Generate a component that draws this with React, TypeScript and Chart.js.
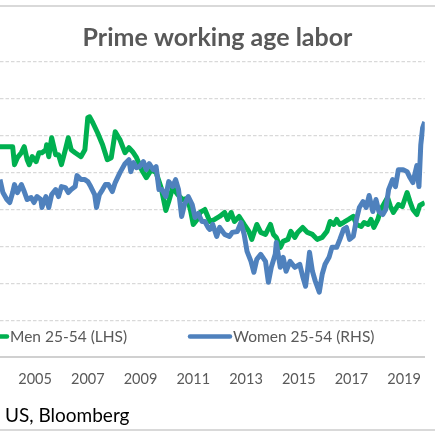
import React, { useEffect, useRef } from "react";
import { Chart, registerables } from "chart.js";

Chart.register(...registerables);

const chartTitle = "Prime working age labor";
const sourceNote = "US, Bloomberg";
const tickYears = [2005, 2007, 2009, 2011, 2013, 2015, 2017, 2019];
const xRange = [2003.67, 2019.78];

const menLabel = "Men 25-54 (LHS)";
const menAxisRange = [86.28, 92.2];
const menYears = [
  2003.67, 2003.85, 2004.04, 2004.15, 2004.22, 2004.33, 2004.48, 2004.59, 2004.7, 2004.78,
  2004.89, 2005.04, 2005.15, 2005.26, 2005.41, 2005.44, 2005.52, 2005.63, 2005.78, 2005.89,
  2006.0, 2006.15, 2006.26, 2006.37, 2006.52, 2006.63, 2006.74, 2006.89, 2007.0, 2007.07,
  2007.19, 2007.37, 2007.56, 2007.74, 2007.89, 2008.04, 2008.22, 2008.41, 2008.56, 2008.7,
  2008.85, 2009.04, 2009.22, 2009.41, 2009.59, 2009.78, 2009.96, 2010.07, 2010.22, 2010.41,
  2010.59, 2010.78, 2010.89, 2011.0, 2011.15, 2011.26, 2011.44, 2011.63, 2011.81, 2012.0,
  2012.19, 2012.3, 2012.44, 2012.56, 2012.74, 2012.93, 2013.11, 2013.22, 2013.41, 2013.56,
  2013.74, 2013.93, 2014.04, 2014.15, 2014.3, 2014.41, 2014.59, 2014.7, 2014.85, 2014.96,
  2015.15, 2015.33, 2015.52, 2015.7, 2015.89, 2016.07, 2016.19, 2016.33, 2016.44, 2016.56,
  2016.7, 2016.89, 2017.07, 2017.19, 2017.37, 2017.48, 2017.63, 2017.74, 2017.85, 2018.0,
  2018.11, 2018.22, 2018.37, 2018.48, 2018.59, 2018.78, 2018.93, 2019.11, 2019.22, 2019.33,
  2019.48, 2019.59, 2019.78,
];
const menRates = [
  90.5, 90.5, 90.5, 90.5, 90.14, 90.28, 90.38, 90.5, 90.24, 90.14,
  90.3, 90.2, 90.38, 90.38, 90.44, 90.54, 90.3, 90.68, 90.34, 90.34,
  90.14, 90.44, 90.68, 90.44, 90.38, 90.34, 90.3, 90.44, 91.08, 91.1,
  90.98, 90.78, 90.54, 90.24, 90.28, 90.8, 90.64, 90.38, 90.48, 90.4,
  90.28, 90.04, 89.88, 90.04, 89.98, 89.68, 89.22, 89.4, 89.68, 89.54,
  89.44, 89.46, 89.24, 88.94, 89.04, 89.18, 89.24, 89.0, 89.04, 89.1,
  89.18, 89.04, 89.18, 89.0, 89.1, 88.94, 88.8, 88.64, 88.94, 88.78,
  88.74, 88.94, 88.74, 88.68, 88.48, 88.6, 88.64, 88.8, 88.68, 88.78,
  88.88, 88.78, 88.74, 88.64, 88.68, 88.8, 89.0, 88.94, 89.04, 88.94,
  88.98, 89.04, 89.1, 88.94, 88.9, 88.98, 88.94, 89.04, 88.88, 89.04,
  89.24, 89.34, 89.48, 89.3, 89.18, 89.34, 89.3, 89.58, 89.4, 89.24,
  89.14, 89.32, 89.38,
];

const womenLabel = "Women 25-54 (RHS)";
const womenAxisRange = [72.28, 78.2];
const womenYears = [
  2003.67, 2003.78, 2003.93, 2004.04, 2004.15, 2004.22, 2004.33, 2004.48, 2004.59, 2004.7,
  2004.85, 2004.96, 2005.07, 2005.22, 2005.26, 2005.41, 2005.52, 2005.63, 2005.78, 2005.89,
  2006.0, 2006.15, 2006.26, 2006.37, 2006.52, 2006.59, 2006.74, 2006.89, 2007.0, 2007.11,
  2007.26, 2007.33, 2007.44, 2007.56, 2007.67, 2007.78, 2007.93, 2008.04, 2008.22, 2008.41,
  2008.56, 2008.63, 2008.74, 2008.85, 2008.96, 2009.11, 2009.22, 2009.33, 2009.48, 2009.59,
  2009.7, 2009.81, 2009.96, 2010.07, 2010.22, 2010.33, 2010.44, 2010.56, 2010.67, 2010.81,
  2010.96, 2011.07, 2011.19, 2011.33, 2011.44, 2011.56, 2011.63, 2011.74, 2011.89, 2012.0,
  2012.19, 2012.37, 2012.48, 2012.67, 2012.81, 2012.93, 2013.04, 2013.19, 2013.3, 2013.41,
  2013.56, 2013.74, 2013.85, 2013.96, 2014.11, 2014.15, 2014.3, 2014.41, 2014.52, 2014.67,
  2014.85, 2015.04, 2015.15, 2015.26, 2015.33, 2015.41, 2015.52, 2015.63, 2015.78, 2015.89,
  2016.0, 2016.15, 2016.26, 2016.44, 2016.56, 2016.7, 2016.81, 2016.93, 2017.07, 2017.19,
  2017.3, 2017.44, 2017.56, 2017.67, 2017.81, 2017.93, 2018.04, 2018.19, 2018.3, 2018.41,
  2018.56, 2018.67, 2018.78, 2018.96, 2019.11, 2019.22, 2019.33, 2019.48, 2019.56, 2019.63,
  2019.7, 2019.78,
];
const womenRates = [
  75.84, 75.58, 75.44, 75.38, 75.58, 75.74, 75.58, 75.74, 75.6, 75.44,
  75.48, 75.38, 75.5, 75.44, 75.28, 75.5, 75.28, 75.54, 75.64, 75.5,
  75.7, 75.68, 75.58, 75.64, 75.7, 75.92, 75.84, 75.84, 75.8, 75.7,
  75.54, 75.28, 75.54, 75.64, 75.74, 75.74, 75.6, 75.78, 75.98, 76.16,
  76.24, 76.0, 76.18, 76.08, 76.1, 76.2, 76.04, 76.16, 76.04, 76.1,
  75.64, 75.64, 75.5, 75.8, 75.7, 75.84, 75.64, 75.1, 75.34, 75.5,
  75.34, 75.08, 75.16, 75.0, 75.0, 74.88, 74.84, 74.94, 74.7, 74.88,
  74.74, 74.7, 74.78, 74.8, 74.98, 74.74, 74.4, 74.2, 73.98, 74.24,
  74.34, 74.2, 73.78, 74.08, 74.34, 74.58, 74.08, 74.28, 74.0, 74.2,
  74.08, 74.14, 73.9, 73.7, 74.0, 74.38, 74.0, 73.8, 73.58, 73.94,
  74.14, 74.28, 74.48, 74.48, 74.64, 74.84, 74.88, 74.64, 74.7, 75.04,
  75.28, 75.4, 75.28, 75.52, 75.2, 75.44, 75.2, 75.14, 75.24, 75.64,
  75.84, 75.7, 76.04, 76.04, 76.0, 75.88, 75.78, 76.12, 75.7, 76.54,
  76.88, 77.0,
];

const GREEN = "#00B050";
const BLUE = "#4F81BD";
const TEXT_GRAY = "#595959";
const GRID_GRAY = "#d9d9d9";
const AXIS_GRAY = "#d0d0d0";
const FONT = "Lato, 'Open Sans', sans-serif";

const legendSlots = [
  { lineFrom: -33, lineTo: 7, textX: 10 },
  { lineFrom: 190, lineTo: 230, textX: 233 },
];

const insideLegend = {
  id: "insideLegend",
  afterDatasetsDraw(chart: any) {
    const ctx = chart.ctx;
    const y = 336.5;
    ctx.save();
    chart.data.datasets.forEach((ds: any, i: number) => {
      const slot = legendSlots[i];
      if (!slot) return;
      ctx.strokeStyle = ds.borderColor;
      ctx.lineWidth = 4.5;
      ctx.lineCap = "round";
      ctx.beginPath();
      ctx.moveTo(slot.lineFrom, y);
      ctx.lineTo(slot.lineTo, y);
      ctx.stroke();
      ctx.fillStyle = TEXT_GRAY;
      ctx.font = `15.5px ${FONT}`;
      ctx.textBaseline = "middle";
      ctx.textAlign = "left";
      ctx.fillText(ds.label, slot.textX, y);
    });
    ctx.restore();
  },
};

export default function App() {
  const canvasRef = useRef<HTMLCanvasElement | null>(null);

  useEffect(() => {
    if (!canvasRef.current) return;
    const chart = new Chart(canvasRef.current, {
      type: "line",
      data: {
        datasets: [
          {
            label: menLabel,
            data: menYears.map((x, i) => ({ x, y: menRates[i] })),
            borderColor: GREEN,
            backgroundColor: GREEN,
            borderWidth: 5,
            pointRadius: 0,
            tension: 0,
            borderJoinStyle: "round",
            yAxisID: "y",
            order: 1,
          },
          {
            label: womenLabel,
            data: womenYears.map((x, i) => ({ x, y: womenRates[i] })),
            borderColor: BLUE,
            backgroundColor: BLUE,
            borderWidth: 5,
            pointRadius: 0,
            tension: 0,
            borderJoinStyle: "round",
            yAxisID: "y1",
            order: 0,
          },
        ],
      },
      options: {
        animation: false,
        responsive: false,
        events: [],
        layout: { padding: { left: 0, right: 0, top: 0, bottom: 38 } },
        plugins: {
          legend: { display: false },
          tooltip: { enabled: false },
          title: {
            display: true,
            text: chartTitle,
            color: TEXT_GRAY,
            font: { family: FONT, size: 25, weight: "bold", lineHeight: 1.2 },
            padding: { top: 23, bottom: 9 },
          },
        },
        scales: {
          x: {
            type: "linear",
            min: xRange[0],
            max: xRange[1],
            grid: { display: false, drawTicks: false },
            border: { display: true, color: AXIS_GRAY, width: 2 },
            afterBuildTicks: (scale: any) => {
              scale.ticks = tickYears.map((v) => ({ value: v }));
            },
            afterFit: (scale: any) => {
              scale.height = 40;
            },
            ticks: {
              autoSkip: false,
              maxRotation: 0,
              padding: 14,
              color: TEXT_GRAY,
              font: { family: FONT, size: 14.5 },
              callback: (v: any) => String(v),
            },
          },
          y: {
            type: "linear",
            position: "left",
            min: menAxisRange[0],
            max: menAxisRange[1],
            ticks: { display: false, count: 9 },
            grid: { color: GRID_GRAY, lineWidth: 1.2, drawTicks: false },
            border: { display: false, dash: [3.5, 2] },
          },
          y1: {
            type: "linear",
            position: "right",
            display: false,
            min: womenAxisRange[0],
            max: womenAxisRange[1],
            grid: { drawOnChartArea: false },
          },
        },
      },
      plugins: [insideLegend],
    });
    return () => chart.destroy();
  }, []);

  return (
    <div
      style={{
        position: "absolute",
        left: 0,
        top: 0,
        width: 435,
        height: 435,
        background: "#ffffff",
        overflow: "hidden",
      }}
    >
      <canvas
        ref={canvasRef}
        width={435}
        height={435}
        style={{ position: "absolute", left: 0, top: 0, width: 435, height: 435 }}
      />
      <div style={{ position: "absolute", left: 0, top: 5, width: 435, height: 2, background: GRID_GRAY }} />
      <div
        style={{
          position: "absolute",
          left: 5,
          top: 403,
          fontFamily: FONT,
          fontSize: 19,
          lineHeight: "24px",
          color: "#000000",
          whiteSpace: "nowrap",
        }}
      >
        {sourceNote}
      </div>
      <div style={{ position: "absolute", left: 0, top: 429, width: 435, height: 2, background: GRID_GRAY }} />
    </div>
  );
}
